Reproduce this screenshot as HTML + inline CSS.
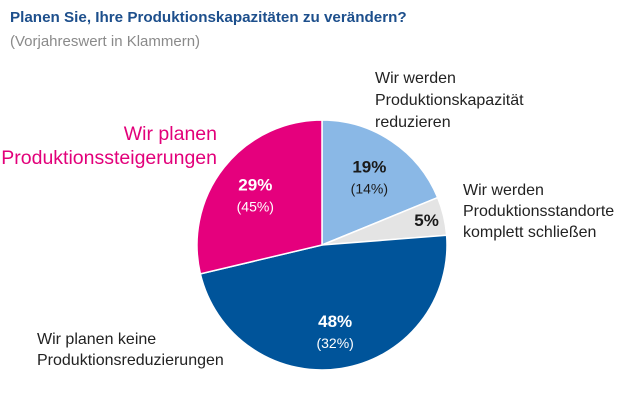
<!DOCTYPE html>
<html><head><meta charset="utf-8"><style>
body{margin:0;width:630px;height:412px;background:#fff;overflow:hidden;font-family:"Liberation Sans",sans-serif}
svg{position:absolute;left:0;top:0}
</style></head><body>
<svg id="c" width="630" height="412">
<text x="10" y="22" font-size="15.2" font-weight="bold" fill="#1d4f8c">Planen Sie, Ihre Produktionskapazitäten zu verändern?</text>
<text x="10" y="46" font-size="15" fill="#8a8a8a">(Vorjahreswert in Klammern)</text>
<g id="slices"></g>
<g font-size="16" fill="#222">
<text><tspan x="375" y="83">Wir werden</tspan><tspan x="375" y="105">Produktionskapazität</tspan><tspan x="375" y="127">reduzieren</tspan></text>
<text><tspan x="463" y="195">Wir werden</tspan><tspan x="463" y="216">Produktionsstandorte</tspan><tspan x="463" y="237">komplett schließen</tspan></text>
<text><tspan x="37" y="344">Wir planen keine</tspan><tspan x="37" y="365">Produktionsreduzierungen</tspan></text>
</g>
<text font-size="19.5" fill="#e2007a" text-anchor="end"><tspan x="217" y="140">Wir planen</tspan><tspan x="217" y="164">Produktionssteigerungen</tspan></text>
<g id="vals" text-anchor="middle"></g>
</svg>
<script>
const categories=["reduzieren","schliessen","keine","steigerungen"];
const values=[19,5,48,29];
const prevLabels=["(14%)","","(32%)","(45%)"];
const colors=["#8ab8e6","#e4e4e4","#00549a","#e5007d"];
const txtColors=["#1a1a1a","#1a1a1a","#fff","#fff"];
const cx=322,cy=245,r=125;
const total=values.reduce((a,b)=>a+b,0);
const ns="http://www.w3.org/2000/svg";
const g=document.getElementById('slices'),vg=document.getElementById('vals');
let a0=0;
values.forEach((v,i)=>{
  const a1=a0+v/total*2*Math.PI;
  const x0=cx+r*Math.sin(a0),y0=cy-r*Math.cos(a0),x1=cx+r*Math.sin(a1),y1=cy-r*Math.cos(a1);
  const p=document.createElementNS(ns,'path');
  p.setAttribute('d',`M${cx},${cy}L${x0},${y0}A${r},${r} 0 ${a1-a0>Math.PI?1:0} 1 ${x1},${y1}Z`);
  p.setAttribute('fill',colors[i]);p.setAttribute('stroke','#fff');p.setAttribute('stroke-width','1.5');
  
  
  g.appendChild(p);
  const am=(a0+a1)/2, lr=v<10?r*0.86:r*0.68;
  const lx=cx+lr*Math.sin(am),ly=cy-lr*Math.cos(am);
  const t=document.createElementNS(ns,'text');
  t.setAttribute('x',lx);t.setAttribute('y',prevLabels[i]?ly-2:ly+6);
  t.setAttribute('font-size','17');t.setAttribute('font-weight','bold');t.setAttribute('fill',txtColors[i]);
  t.textContent=v+'%';
  
  
  vg.appendChild(t);
  if(prevLabels[i]){
    const t2=document.createElementNS(ns,'text');
    t2.setAttribute('x',lx);t2.setAttribute('y',ly+19);
    t2.setAttribute('font-size','14');t2.setAttribute('fill',txtColors[i]);
    t2.textContent=prevLabels[i];
    
    
    vg.appendChild(t2);
  }
  a0=a1;
});
</script>
</body></html>
